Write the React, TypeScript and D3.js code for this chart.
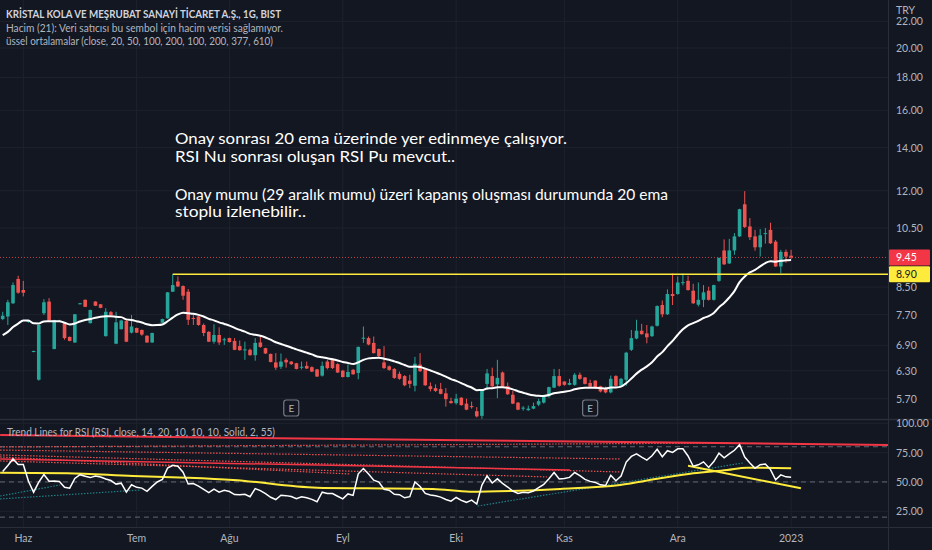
import React from 'react';
import * as d3 from 'd3';

// ---- Data (daily candles, BIST KRSTL) ----
const opens = [7.58,7.65,8.02,8.75,8.41,7.50,6.74,6.10,7.74,8.07,6.81,7.52,7.47,7.11,6.97,8.00,8.12,7.47,8.07,7.99,7.13,7.77,6.94,7.31,7.53,7.22,7.34,7.29,7.14,6.97,7.42,7.48,7.60,8.36,8.67,8.53,8.36,7.61,7.65,7.42,7.24,6.99,7.16,7.03,7.08,7.01,6.88,6.78,6.79,6.66,6.97,6.83,6.69,6.49,6.39,6.55,6.51,6.47,6.37,6.41,6.38,6.33,6.19,6.51,6.55,6.45,6.30,6.16,6.32,6.25,7.07,7.08,6.96,6.81,6.49,6.40,6.34,6.23,6.18,6.08,5.97,6.44,6.34,5.96,5.92,5.90,5.81,5.65,5.61,5.72,5.60,5.55,5.45,5.36,6.01,6.18,6.00,6.26,5.96,5.78,5.62,5.50,5.47,5.50,5.58,5.62,5.75,5.93,6.18,6.06,5.99,5.99,6.21,6.15,6.03,6.08,5.96,5.92,5.83,6.18,5.97,6.10,6.79,7.07,7.27,7.20,7.13,7.40,7.97,7.71,8.29,8.29,8.62,8.69,8.39,7.98,8.12,8.39,8.12,8.69,9.69,9.25,9.69,10.19,11.43,10.56,10.19,9.80,10.29,10.43,10.00,9.15,9.64,9.51];
const highs = [7.78,8.12,8.64,8.85,8.69,7.55,6.77,7.43,8.14,8.17,7.56,7.56,7.49,7.12,7.72,8.03,8.13,7.84,8.08,8.00,7.88,7.80,7.78,7.56,7.55,7.69,7.35,7.30,7.15,7.22,7.45,7.59,8.35,8.90,8.83,8.55,8.44,7.69,7.66,7.46,7.26,7.44,7.36,7.09,7.09,7.08,7.02,6.99,6.82,7.08,7.13,6.84,6.70,6.71,6.70,6.59,6.52,6.48,6.51,6.51,6.40,6.34,6.51,6.55,6.58,6.47,6.32,6.44,6.34,6.87,7.38,7.12,7.12,6.82,6.88,6.42,6.36,6.28,6.20,6.21,6.62,6.71,6.36,6.04,6.00,6.03,5.92,5.72,5.80,5.73,5.70,5.64,5.53,5.89,6.34,6.37,6.55,6.28,6.04,5.86,5.63,5.55,5.56,5.62,5.70,5.78,5.95,6.34,6.34,6.07,6.12,6.25,6.26,6.16,6.10,6.09,5.97,5.95,6.19,6.20,6.14,6.74,7.29,7.56,7.45,7.42,7.40,7.96,8.10,8.43,8.92,8.83,8.92,8.85,8.60,8.64,8.56,8.51,8.57,9.45,10.08,10.10,10.31,11.25,11.98,10.88,10.43,10.46,10.50,10.70,10.06,9.71,9.72,9.71];
const lows = [7.55,7.42,8.00,8.30,8.22,7.48,6.73,6.08,7.69,7.53,6.80,7.50,7.04,7.00,6.96,7.99,7.91,7.46,7.94,7.88,7.12,7.68,6.93,7.30,6.98,7.20,7.21,7.14,6.96,6.96,7.41,7.47,7.59,8.35,8.50,8.12,7.42,7.42,7.40,7.13,6.98,6.94,6.91,6.91,6.97,6.78,6.77,6.55,6.65,6.53,6.84,6.69,6.49,6.32,6.34,6.37,6.43,6.33,6.33,6.34,6.27,6.16,6.17,6.33,6.34,6.25,6.15,6.15,6.21,6.11,6.96,6.90,6.70,6.62,6.34,6.30,6.12,6.10,5.96,5.92,5.85,6.27,5.97,5.85,5.84,5.79,5.54,5.60,5.58,5.56,5.47,5.50,5.33,5.30,5.88,5.94,5.71,5.93,5.78,5.59,5.47,5.46,5.46,5.49,5.55,5.60,5.72,5.92,5.95,5.97,5.98,5.97,6.10,6.00,5.93,5.90,5.83,5.81,5.81,5.95,5.95,5.97,6.76,7.05,7.17,6.95,7.11,7.38,7.63,7.69,7.97,8.27,8.55,8.39,8.00,7.93,7.91,8.10,8.10,8.66,9.20,9.23,9.54,10.17,10.50,10.06,9.68,9.48,9.93,9.92,9.13,8.93,9.27,9.40];
const closes = [7.67,8.05,8.56,8.33,8.33,7.53,6.76,7.42,8.05,7.54,7.55,7.53,7.08,7.01,7.71,8.02,7.92,7.83,7.95,7.89,7.78,7.69,7.49,7.54,6.99,7.38,7.22,7.17,6.97,7.21,7.44,7.58,8.34,8.56,8.52,8.24,7.56,7.59,7.42,7.21,6.99,7.16,6.97,7.05,6.98,6.79,6.78,6.80,6.66,6.96,6.86,6.70,6.50,6.37,6.51,6.49,6.45,6.34,6.39,6.35,6.28,6.17,6.41,6.36,6.36,6.26,6.16,6.27,6.22,6.86,7.09,6.92,6.71,6.64,6.36,6.32,6.14,6.12,5.98,6.01,6.46,6.29,5.98,5.90,5.86,5.80,5.69,5.61,5.70,5.57,5.48,5.53,5.35,5.88,6.24,5.96,6.14,5.95,5.79,5.60,5.48,5.52,5.50,5.55,5.65,5.75,5.94,6.18,5.97,5.99,6.03,6.21,6.12,6.01,5.95,5.92,5.85,5.83,6.12,5.97,6.12,6.72,7.08,7.27,7.18,7.10,7.38,7.94,7.71,8.29,8.23,8.64,8.65,8.41,8.02,8.12,8.34,8.12,8.56,9.43,9.22,9.69,10.19,11.23,10.54,10.16,9.80,10.23,10.31,9.94,9.15,9.64,9.48,9.45];

const monthLabels = ['Haz', 'Tem', 'Ağu', 'Eyl', 'Eki', 'Kas', 'Ara', '2023'];
const monthBarIdx = [4, 26, 44, 66, 88, 109, 131, 153];
const priceTicks = [5.7, 6.3, 6.9, 7.7, 8.5, 10.5, 12, 14, 16, 18, 20, 22];
const rsiTicks = [100, 75, 50, 25];
const rsiBands = [80, 50, 20];
const earningsIdx = [56, 114];

// indicator seeds (state before the first visible bar)
const emaPeriod = 20;
const emaSeed = 7.1;
const rsiPeriod = 14;
const rsiPrevClose = 7.55;
const rsiSeedGain = 0.12;
const rsiSeedLoss = 0.09;

// RSI moving average (yellow)
const rsiMaIdx = [-0.5, 12.5, 25.3, 35.8, 44.7, 61, 70.7, 83.5, 90.7, 98.5, 108.2, 119.8, 127.6, 134, 140.6, 144.4, 153];
const rsiMaVal = [57.9, 57.4, 55.1, 53.6, 51.7, 45.1, 44.6, 44.0, 41.7, 42.3, 44.0, 47.4, 53.1, 57.4, 60.2, 62.2, 61.7];

// RSI trend lines: [startIdx, startVal, endIdx, endVal]
const redSolidLines = [[-0.5, 90, 171.8, 81.5], [-0.5, 69.6, 110.1, 60.2]];
const redDottedLines = [
  [-0.5, 79.8, 143.1, 83.2],
  [-0.5, 77.2, 119.8, 69.6],
  [-0.5, 73.0, 119.8, 58.5],
  [-0.5, 71.3, 67.4, 56.8],
  [-0.5, 67.9, 105.6, 54.3],
];
const tealDottedLines = [
  [-0.5, 38.0, 11.1, 47.4],
  [-0.5, 35.5, 26.6, 43.1],
  [92.2, 29.5, 143.7, 66.2],
];
const yellowTrendLines = [[133, 63.8, 154.9, 44.6]];

const supportLevel = 8.9;
const supportStartIdx = 33;
const lastPrice = 9.45;

const titleLines = [
  'KRİSTAL KOLA VE MEŞRUBAT SANAYİ TİCARET A.Ş., 1G, BIST',
  'Hacim (21): Veri satıcısı bu sembol için hacim verisi sağlamıyor.',
  'üssel ortalamalar (close, 20, 50, 100, 200, 100, 200, 377, 610)',
];
const noteLines = [
  'Onay sonrası 20 ema üzerinde yer edinmeye çalışıyor.',
  'RSI Nu sonrası oluşan RSI Pu mevcut..',
  '',
  'Onay mumu (29 aralık mumu) üzeri kapanış oluşması durumunda 20 ema',
  'stoplu izlenebilir..',
];
const noteWidths = [392, 280, 0, 493, 131];
const rsiTitle = 'Trend Lines for RSI  (RSI, close, 14, 20, 10, 10, 10, Solid, 2, 55)';

// ---- layout ----
const W = 932;
const H = 550;
const plotR = 888;
const mainBottom = 419;
const rsiTop = 420;
const rsiBottom = 527;
const BG = '#131722';
const GRID = '#1e222d';
const UP = '#26a69a';
const DOWN = '#ef5350';
const AXIS_TEXT = '#b2b5be';
const FONT = 'Lato, "Open Sans", sans-serif';

function ema(values: number[], period: number, seed: number) {
  const k = 2 / (period + 1);
  let e = seed;
  return values.map((v) => (e = e + k * (v - e)));
}

function rsi(values: number[], period: number, prev: number, g0: number, l0: number) {
  let ag = g0, al = l0, p = prev;
  return values.map((c) => {
    const ch = c - p;
    p = c;
    ag = (ag * (period - 1) + Math.max(ch, 0)) / period;
    al = (al * (period - 1) + Math.max(-ch, 0)) / period;
    return 100 - 100 / (1 + ag / al);
  });
}

export default function App() {
  const n = closes.length;
  const x = d3.scaleLinear().domain([0, n - 1]).range([2.7, 2.7 + (n - 1) * 5.153]);
  const y = d3.scaleLog().domain([5.3, 23.75]).range([mainBottom, 0]);
  const yr = d3.scaleLinear().domain([0, 100]).range([540.6, 423.3]);

  const emaVals = ema(closes, emaPeriod, emaSeed);
  const rsiVals = rsi(closes, rsiPeriod, rsiPrevClose, rsiSeedGain, rsiSeedLoss);

  const emaPath = d3.line<number>().x((_, i) => x(i)).y((d) => y(d)).curve(d3.curveMonotoneX)(emaVals) || '';
  const rsiPath = d3.line<number>().x((_, i) => x(i)).y((d) => yr(d))(rsiVals) || '';
  const maPath = d3.line<number>().x((d) => x(d)).y((_, i) => yr(rsiMaVal[i])).curve(d3.curveMonotoneX)(rsiMaIdx) || '';

  const bodyW = 3.6;

  const seg = (l: number[], stroke: string, sw: number, dash?: string, key?: string) => (
    <line key={key} x1={x(l[0])} y1={yr(l[1])} x2={x(l[2])} y2={yr(l[3])} stroke={stroke} strokeWidth={sw} strokeDasharray={dash} />
  );

  return (
    <svg width={W} height={H} style={{ position: 'absolute', left: 0, top: 0, background: BG }} xmlns="http://www.w3.org/2000/svg">
      <defs>
        <clipPath id="mainClip"><rect x={0} y={0} width={plotR} height={mainBottom} /></clipPath>
        <clipPath id="rsiClip"><rect x={0} y={rsiTop} width={plotR} height={rsiBottom - rsiTop} /></clipPath>
      </defs>
      <rect x={0} y={0} width={W} height={H} fill={BG} />

      {/* grid */}
      <g>
        {priceTicks.map((t) => (
          <line key={'pg' + t} x1={0} x2={plotR} y1={y(t)} y2={y(t)} stroke={GRID} strokeWidth={1} />
        ))}
        {rsiTicks.map((t) => (
          <line key={'rg' + t} x1={0} x2={plotR} y1={yr(t)} y2={yr(t)} stroke={GRID} strokeWidth={1} />
        ))}
        {monthBarIdx.map((i) => (
          <line key={'vg' + i} x1={x(i)} x2={x(i)} y1={0} y2={rsiBottom} stroke={GRID} strokeWidth={1} />
        ))}
      </g>

      {/* main pane */}
      <g clipPath="url(#mainClip)">
        <line x1={0} x2={plotR} y1={y(lastPrice)} y2={y(lastPrice)} stroke={DOWN} strokeOpacity={0.8} strokeWidth={1} strokeDasharray="1,2" />
        {closes.map((c, i) => {
          const o = opens[i];
          const col = c >= o ? UP : DOWN;
          const top = y(Math.max(o, c));
          const bot = y(Math.min(o, c));
          return (
            <g key={'c' + i}>
              <line x1={x(i)} x2={x(i)} y1={y(highs[i])} y2={y(lows[i])} stroke={col} strokeWidth={1} />
              <rect x={x(i) - bodyW / 2} y={top} width={bodyW} height={Math.max(1, bot - top)} fill={col} />
            </g>
          );
        })}
        <path d={emaPath} fill="none" stroke="#ffffff" strokeWidth={2} />
        <line x1={x(supportStartIdx)} x2={plotR} y1={y(supportLevel)} y2={y(supportLevel)} stroke="#ffeb3b" strokeWidth={1.5} />
        {earningsIdx.map((i) => (
          <g key={'e' + i}>
            <rect x={x(i) - 7.5} y={400} width={15} height={16} rx={2.5} fill={BG} stroke="#787b86" strokeWidth={1.2} />
            <text x={x(i)} y={412} textAnchor="middle" fontSize={10} fontFamily={FONT} fill="#b2b5be">E</text>
          </g>
        ))}
      </g>

      {/* header */}
      <text x={6} y={18} fontSize={11} fontWeight={700} fontFamily={FONT} fill="#d1d4dc" textLength={275} lengthAdjust="spacingAndGlyphs">{titleLines[0]}</text>
      <text x={6} y={32} fontSize={11} fontFamily={FONT} fill={AXIS_TEXT} textLength={277} lengthAdjust="spacingAndGlyphs">{titleLines[1]}</text>
      <text x={6} y={45} fontSize={11} fontFamily={FONT} fill={AXIS_TEXT} textLength={267} lengthAdjust="spacingAndGlyphs">{titleLines[2]}</text>

      {/* notes */}
      {noteLines.map((t, i) => (t ? (
        <text key={'n' + i} x={175} y={144 + i * 17.5 + (i >= 3 ? 3 : 0)} fontSize={16} fontFamily={FONT} fill="#ffffff" textLength={noteWidths[i]} lengthAdjust="spacingAndGlyphs">{t}</text>
      ) : null))}

      {/* separators */}
      <line x1={0} x2={W} y1={mainBottom + 0.5} y2={mainBottom + 0.5} stroke="#2a2e39" strokeWidth={1.5} />
      <line x1={plotR + 0.5} x2={plotR + 0.5} y1={0} y2={H} stroke="#2a2e39" strokeWidth={1} />
      <line x1={0} x2={W} y1={rsiBottom + 0.5} y2={rsiBottom + 0.5} stroke="#2a2e39" strokeWidth={1} />

      {/* RSI pane */}
      <g clipPath="url(#rsiClip)">
        {rsiBands.map((b) => (
          <line key={'b' + b} x1={0} x2={plotR} y1={yr(b)} y2={yr(b)} stroke="#787b86" strokeWidth={1} strokeDasharray="5,4" strokeOpacity={0.8} />
        ))}
        {redDottedLines.map((l, i) => seg(l, DOWN, 1.2, '1.5,1.5', 'rd' + i))}
        {redSolidLines.map((l, i) => seg(l, '#f23645', i === 0 ? 2 : 1.5, undefined, 'rs' + i))}
        {tealDottedLines.map((l, i) => seg(l, '#1e7f86', 1.2, '1.5,1.5', 'td' + i))}
        <path d={maPath} fill="none" stroke="#ffeb3b" strokeWidth={2} />
        {yellowTrendLines.map((l, i) => seg(l, '#ffeb3b', 2, undefined, 'yt' + i))}
        <path d={rsiPath} fill="none" stroke="#ffffff" strokeWidth={1.5} />
      </g>
      <text x={7} y={436} fontSize={10.5} fontFamily={FONT} fill={AXIS_TEXT} textLength={268} lengthAdjust="spacingAndGlyphs">{rsiTitle}</text>

      {/* price axis */}
      {priceTicks.map((t) => (
        <text key={'pt' + t} x={896} y={y(t) + 4} fontSize={10.5} fontFamily={FONT} fill={AXIS_TEXT}>{t.toFixed(2)}</text>
      ))}
      <rect x={plotR + 1} y={0} width={W - plotR - 1} height={17} fill={BG} />
      <text x={896} y={14} fontSize={10.5} fontFamily={FONT} fill={AXIS_TEXT}>TRY</text>
      <rect x={plotR + 1} y={y(lastPrice) - 8} width={W - plotR - 3} height={16} fill="#f23645" rx={1} />
      <text x={896} y={y(lastPrice) + 4} fontSize={10.5} fontFamily={FONT} fill="#ffffff">{lastPrice.toFixed(2)}</text>
      <rect x={plotR + 1} y={y(supportLevel) - 8} width={W - plotR - 3} height={16} fill="#ffeb3b" rx={1} />
      <text x={896} y={y(supportLevel) + 4} fontSize={10.5} fontFamily={FONT} fill="#131722">{supportLevel.toFixed(2)}</text>

      {/* rsi axis */}
      {rsiTicks.map((t) => (
        <text key={'rt' + t} x={896} y={yr(t) + 4} fontSize={10.5} fontFamily={FONT} fill={AXIS_TEXT}>{t.toFixed(2)}</text>
      ))}

      {/* time axis */}
      {monthLabels.map((m, i) => (
        <text key={'m' + m} x={x(monthBarIdx[i])} y={542} textAnchor="middle" fontSize={10.5} fontFamily={FONT} fill={AXIS_TEXT}>{m}</text>
      ))}
    </svg>
  );
}
